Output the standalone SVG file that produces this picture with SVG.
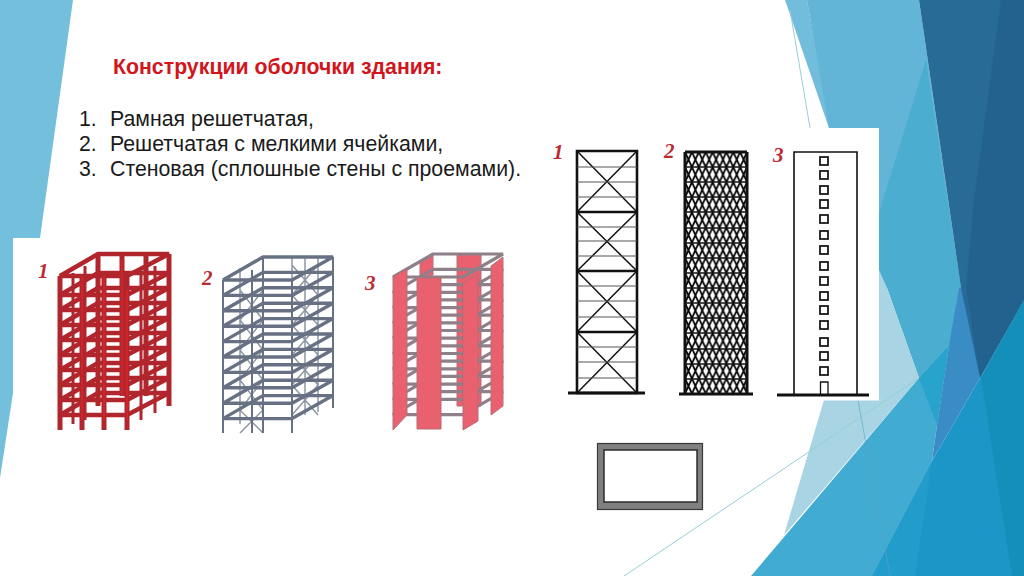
<svg xmlns="http://www.w3.org/2000/svg" width="1024" height="576" viewBox="0 0 1024 576">
<style>
.ttl{font:bold 21.300px "Liberation Sans",Arial,sans-serif;fill:#d2161c}
.li{font:21.300px "Liberation Sans",Arial,sans-serif;fill:#1a1a1a}
.num{font:italic bold 21px "Liberation Serif","Times New Roman",serif;fill:#bb2b33}
.r{fill:none;stroke:#b0262c;stroke-linejoin:bevel}
.g{fill:none;stroke:#687184;stroke-linejoin:bevel}
.gl{fill:none;stroke:#8d97a3;stroke-width:1.5}
.p{fill:#e9616f;stroke:#b96c78;stroke-width:1}
.pf{fill:none;stroke:#8f7f88;stroke-width:3.200;stroke-linejoin:bevel}
.k{fill:none;stroke:#111}
.thin{fill:none;stroke:#96cfd8;stroke-width:1}
</style>
<defs>
<path id="fr" d="M60 280H127L169 258H98Z"/>
<path id="fg" d="M223 280H292L333 257H263Z"/>
<path id="fp" d="M393 277H463L503 254H433Z"/>
<pattern id="lat" x="685" y="152" width="6.9" height="15.1" patternUnits="userSpaceOnUse">
<path d="M0 0L6.9 15.1M6.9 0L0 15.1" stroke="#000" stroke-width="1.800" fill="none"/>
</pattern>
<rect id="win" x="-4" y="-4" width="8" height="8" fill="#fff" stroke="#1a1a1a" stroke-width="1.800"/>
</defs>

<g id="background">
<rect width="1024" height="576" fill="#fff"/>
<polygon points="0,0 73,0 40,238 13,238 13,393 0,478" fill="#74bfdb"/>
<polygon points="785,0 807,0 830,128 829,128" fill="#72bddb"/>
<polygon points="807,0 919,0 961,288 879,288 879,128 829,128" fill="#62b5d6"/>
<polygon points="926,60 879,213 879,270 887,288 919,378 949,345 970,320 961,288" fill="#4badcf"/>
<polygon points="879,270 887,288 919,378 784,535 824,400 879,400" fill="#a8d4e4"/>
<polygon points="919,378 949,345 937,425 932,461 872,576 751,576" fill="#41abd1"/>
<polygon points="919,378 949,345 937,425" fill="#27a3cc"/>
<polygon points="959,288 966,288 980,378 932,461 937,425 949,345" fill="#3a8cc4"/>
<polygon points="919,0 1024,0 1024,300 980,378 961,288" fill="#286b96"/>
<polygon points="1001,0 1024,0 1024,300 980,378 966,288 974,200" fill="#23628f"/>
<polygon points="1024,300 980,378 932,461 872,576 1024,576" fill="#1c96c6"/>
<polygon points="981,378 1024,300 1024,576 1012,576" fill="#148fba"/>
<polygon points="932,461 872,576 915,576" fill="#229ccb"/>
<path class="thin" d="M790 10L810 128M624 576L919 378"/>
<path d="M858 400L890 576" fill="none" stroke="#5aa5c6" stroke-width="1" opacity=".6"/>
<rect x="540" y="128" width="339" height="272.500" fill="#fff"/>
</g>

<g id="text">
<text class="ttl" x="113" y="74">Конструкции оболочки здания:</text>
<text class="li" x="79" y="126">1.</text><text class="li" x="110" y="126">Рамная решетчатая,</text>
<text class="li" x="79" y="151">2.</text><text class="li" x="110" y="151">Решетчатая с мелкими ячейками,</text>
<text class="li" x="79" y="176">3.</text><text class="li" x="110" y="176">Стеновая (сплошные стены с проемами).</text>
<text class="num" x="38" y="278">1</text>
<text class="num" x="202" y="285">2</text>
<text class="num" x="365" y="290">3</text>
<text class="num" x="553" y="159">1</text>
<text class="num" x="664" y="158">2</text>
<text class="num" x="773" y="162">3</text>
</g>

<g id="frame-1">
<path class="r" stroke-width="3" d="M73 273V424M85 266V420M141 273V420M155 266V413"/>
<g class="r" stroke-width="4.500">
<use href="#fr" y="-4"/><use href="#fr" y="15"/><use href="#fr" y="30"/><use href="#fr" y="45"/><use href="#fr" y="60"/>
<use href="#fr" y="75"/><use href="#fr" y="90"/><use href="#fr" y="105"/><use href="#fr" y="120"/><use href="#fr" y="135"/>
</g>
<path class="r" stroke-width="5" d="M60 276V430M82 276V430M104 276V430M127 276V430M98 254V406M122 254V396M146 254V396M169 254V406"/>
<path fill="none" stroke="#d8262e" stroke-width="1.500" d="M82 276V420M104 276V420M127 290V420M122 260V396"/>
</g>

<g id="frame-2">
<path class="gl" d="M240 268V424M292 258V420M305 257V415M318 257V412M240 290L263 320L240 350L263 380L240 410L263 433M263 290L240 320L263 350L240 380L263 410L240 433M292 265L318 295L292 325L318 355L292 385L318 415M318 265L292 295L318 325L292 355L318 385L292 415"/>
<g class="g" stroke-width="3.400">
<use href="#fg"/><use href="#fg" y="15.400"/><use href="#fg" y="30.800"/><use href="#fg" y="46.200"/><use href="#fg" y="61.600"/>
<use href="#fg" y="77"/><use href="#fg" y="92.400"/><use href="#fg" y="107.800"/><use href="#fg" y="123.200"/><use href="#fg" y="138.600"/>
</g>
<path class="g" stroke-width="2" d="M223 280V433M292 280V433M263 257V433M333 257V408M252 270V433"/>
</g>

<g id="frame-3">
<polygon class="p" points="457,254 481,254 481,406 457,406"/>
<polygon class="p" points="420,262 433,254 433,275 420,282"/>
<g class="pf">
<use href="#fp"/><use href="#fp" y="15.300"/><use href="#fp" y="30.600"/><use href="#fp" y="45.900"/><use href="#fp" y="61.200"/>
<use href="#fp" y="76.500"/><use href="#fp" y="91.800"/><use href="#fp" y="107.100"/><use href="#fp" y="122.400"/><use href="#fp" y="137.700"/>
</g>
<polygon class="p" points="393,277 407,269 407,415 393,430"/>
<polygon class="p" points="417,278 441,278 441,429 417,429"/>
<polygon class="p" points="463,283 478,274 478,421 463,430"/>
<polygon class="p" points="491,266 503,257 503,406 491,415"/>
</g>

<g id="elevation-1">
<path class="k" stroke-width="2.600" d="M577 151H637V393H577ZM577 212H637M577 271H637M577 332H637"/>
<path class="k" stroke-width="1.500" d="M577 151L637 212M637 151L577 212M577 212L637 271M637 212L577 271M577 271L637 332M637 271L577 332M577 332L637 393M637 332L577 393"/>
<path fill="none" stroke="#555" stroke-width="1.200" d="M577 167H637M577 182H637M577 197H637M577 227H637M577 241H637M577 256H637M577 286H637M577 301H637M577 317H637M577 347H637M577 362H637M577 378H637"/>
<path class="k" stroke-width="3" d="M568 393H645"/>
</g>

<g id="elevation-2">
<rect x="685" y="152" width="61" height="242" fill="url(#lat)"/>
<path class="k" stroke-width="1.500" d="M685 167H747M685 182H747M685 197H747M685 212H747M685 228H747M685 243H747M685 258H747M685 273H747M685 288H747M685 303H747M685 318H747M685 333H747M685 349H747M685 364H747M685 379H747"/>
<path class="k" stroke-width="3" d="M685 152V394M747 152V394M685 152H747"/>
<path class="k" stroke-width="3" d="M679 394H753"/>
</g>

<g id="elevation-3">
<path class="k" stroke-width="1.600" d="M794 395V152H857V395"/>
<use href="#win" x="824" y="161"/><use href="#win" x="824" y="175"/><use href="#win" x="824" y="190"/><use href="#win" x="824" y="204"/>
<use href="#win" x="824" y="219"/><use href="#win" x="824" y="235"/><use href="#win" x="824" y="250"/><use href="#win" x="824" y="266"/>
<use href="#win" x="824" y="281"/><use href="#win" x="824" y="296"/><use href="#win" x="824" y="310"/><use href="#win" x="824" y="325"/>
<use href="#win" x="824" y="342"/><use href="#win" x="824" y="356"/><use href="#win" x="824" y="371"/>
<path class="k" stroke-width="1.300" d="M820.500 395V382H828V395"/>
<path class="k" stroke-width="3.200" d="M777 395H869"/>
</g>

<g id="section">
<rect x="597.500" y="443.500" width="105" height="66" fill="#808080" stroke="#3a3a3a" stroke-width="1.200"/>
<rect x="604" y="450" width="93" height="52" fill="#fff" stroke="#222" stroke-width="1.400"/>
</g>
</svg>
